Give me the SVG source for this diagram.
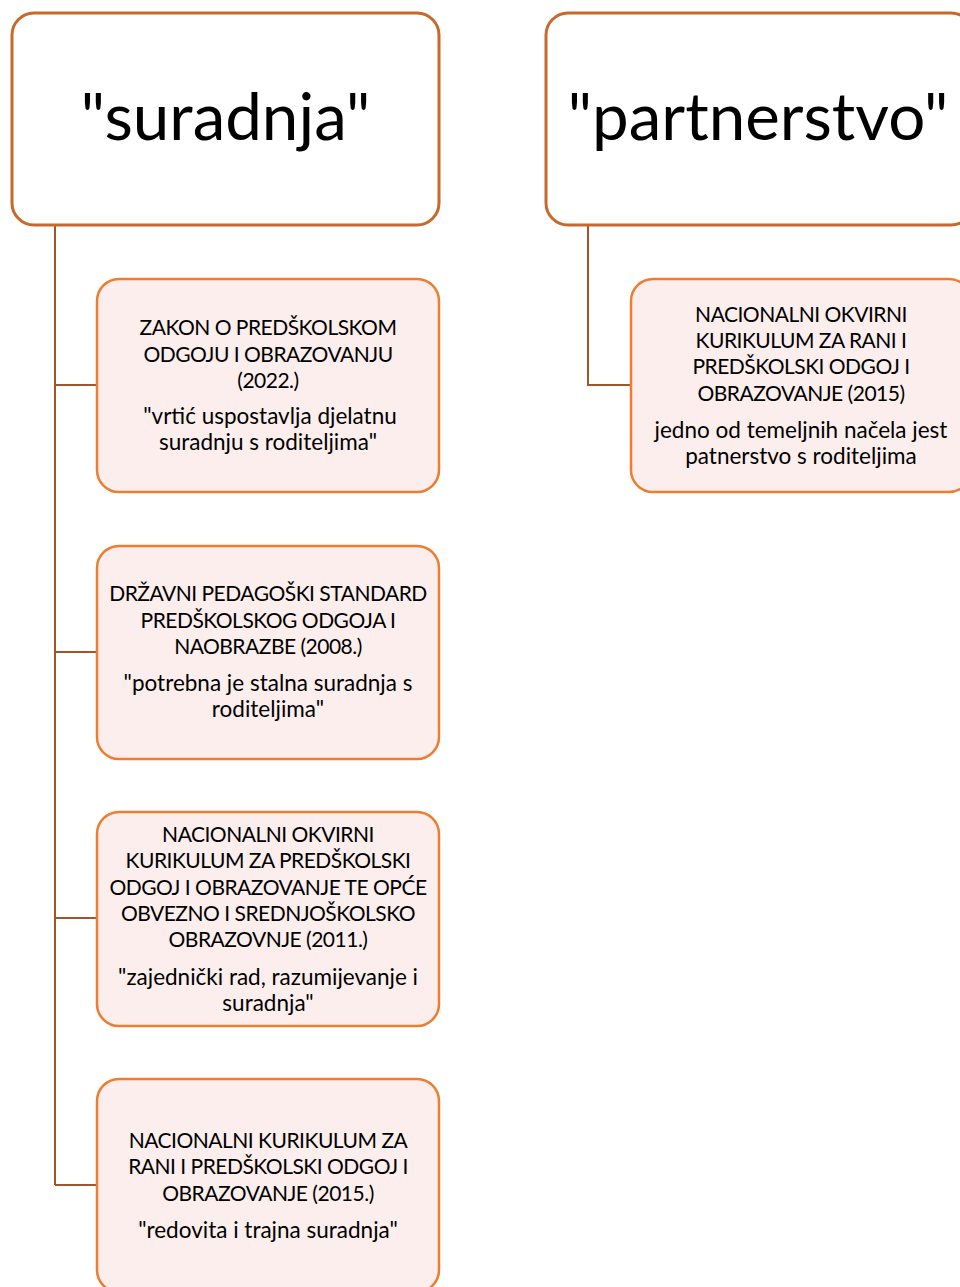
<svg xmlns="http://www.w3.org/2000/svg" width="960" height="1287" viewBox="0 0 960 1287">
<style>
.top{fill:#ffffff;stroke:#c8692b;stroke-width:3}
.child{fill:#fbeeec;stroke:#ed7d31;stroke-width:2.5}
.conn{fill:none;stroke:#a0562a;stroke-width:2}
.title{font-family:Lato,"Liberation Sans",sans-serif;font-size:65.5px;fill:#000;text-anchor:middle}
.t{font-family:Lato,"Liberation Sans",sans-serif;font-size:21px;letter-spacing:-0.5px;fill:#000;text-anchor:middle}
.q{font-family:Lato,"Liberation Sans",sans-serif;font-size:22.5px;fill:#000;text-anchor:middle}
</style>
<rect width="960" height="1287" fill="#ffffff"/>
<g id="connectors">
<path class="conn" d="M55 225 V1185 M55 385 H97 M55 652 H97 M55 918 H97 M55 1185 H97"/>
<path class="conn" d="M588 225 V385 H631"/>
</g>
<g id="suradnja">
<rect class="top" x="12" y="13" width="427" height="212" rx="22"/>
<text class="title" x="225.5" y="140">"suradnja"</text>
</g>
<g id="partnerstvo">
<rect class="top" x="546" y="13" width="427" height="212" rx="22"/>
<text class="title" x="758" y="140">"partnerstvo"</text>
</g>
<g id="zakon">
<rect class="child" x="97" y="279" width="342" height="213" rx="22"/>
<text class="t" x="268" y="335">ZAKON O PREDŠKOLSKOM</text>
<text class="t" x="268" y="361.5">ODGOJU I OBRAZOVANJU</text>
<text class="t" x="268" y="388">(2022.)</text>
<text class="q" x="270" y="424">"vrtić uspostavlja djelatnu</text>
<text class="q" x="268" y="450">suradnju s roditeljima"</text>
</g>
<g id="standard">
<rect class="child" x="97" y="546" width="342" height="213" rx="22"/>
<text class="t" x="268" y="601">DRŽAVNI PEDAGOŠKI STANDARD</text>
<text class="t" x="268" y="627.5">PREDŠKOLSKOG ODGOJA I</text>
<text class="t" x="268" y="654">NAOBRAZBE (2008.)</text>
<text class="q" x="268" y="691">"potrebna je stalna suradnja s</text>
<text class="q" x="268" y="717">roditeljima"</text>
</g>
<g id="nok2011">
<rect class="child" x="97" y="812" width="342" height="214" rx="22"/>
<text class="t" x="268" y="842">NACIONALNI OKVIRNI</text>
<text class="t" x="268" y="868">KURIKULUM ZA PREDŠKOLSKI</text>
<text class="t" x="268" y="895">ODGOJ I OBRAZOVANJE TE OPĆE</text>
<text class="t" x="268" y="921">OBVEZNO I SREDNJOŠKOLSKO</text>
<text class="t" x="268" y="947">OBRAZOVNJE (2011.)</text>
<text class="q" x="268" y="985">"zajednički rad, razumijevanje i</text>
<text class="q" x="268" y="1011">suradnja"</text>
</g>
<g id="nk2015">
<rect class="child" x="97" y="1079" width="342" height="213" rx="22"/>
<text class="t" x="268" y="1148">NACIONALNI KURIKULUM ZA</text>
<text class="t" x="268" y="1174">RANI I PREDŠKOLSKI ODGOJ I</text>
<text class="t" x="268" y="1201">OBRAZOVANJE (2015.)</text>
<text class="q" x="268" y="1238">"redovita i trajna suradnja"</text>
</g>
<g id="nok2015">
<rect class="child" x="631" y="279" width="340" height="213" rx="22"/>
<text class="t" x="801" y="322">NACIONALNI OKVIRNI</text>
<text class="t" x="801" y="348">KURIKULUM ZA RANI I</text>
<text class="t" x="801" y="374">PREDŠKOLSKI ODGOJ I</text>
<text class="t" x="801" y="401">OBRAZOVANJE (2015)</text>
<text class="q" x="801" y="438">jedno od temeljnih načela jest</text>
<text class="q" x="801" y="464">patnerstvo s roditeljima</text>
</g>
</svg>
